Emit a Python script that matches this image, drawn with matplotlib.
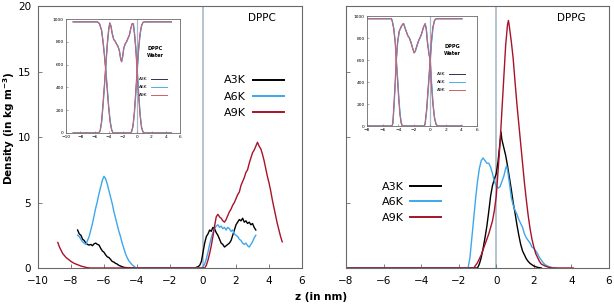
import matplotlib
matplotlib.use("Agg")
import matplotlib.pyplot as plt

# ---------------- data: DPPC main panel ----------------
dppc_a3k_z = [-7.6, -7.5, -7.4, -7.3, -7.2, -7.1, -7.0, -6.9, -6.8, -6.7, -6.6, -6.5, -6.4, -6.3, -6.2, -6.1,
              -6.0, -5.9, -5.8, -5.7, -5.6, -5.5, -5.4, -5.3, -5.2, -5.1, -5.0, -4.9, -4.8, -4.6, -4.4,
              -0.5, -0.4, -0.3, -0.2, -0.1, 0.0, 0.1, 0.2, 0.3, 0.4, 0.5, 0.6, 0.7, 0.8, 0.9, 1.0, 1.1, 1.2,
              1.3, 1.4, 1.5, 1.6, 1.7, 1.8, 1.9, 2.0, 2.1, 2.2, 2.3, 2.4, 2.5, 2.6, 2.7, 2.8, 2.9, 3.0, 3.1, 3.2]
dppc_a3k_d = [2.9, 2.6, 2.5, 2.2, 2.1, 1.9, 1.8, 1.75, 1.8, 1.7, 1.85, 1.9, 1.8, 1.75, 1.5, 1.3,
              1.2, 1.0, 0.85, 0.8, 0.65, 0.5, 0.45, 0.35, 0.3, 0.2, 0.15, 0.1, 0.05, 0.02, 0.0,
              0.0, 0.05, 0.1, 0.2, 0.5, 1.2, 1.9, 2.4, 2.6, 2.9, 2.8, 3.1, 3.0, 2.7, 2.5, 2.2, 1.9, 1.8,
              1.6, 1.7, 1.8, 1.9, 2.1, 2.5, 2.9, 3.3, 3.5, 3.7, 3.6, 3.8, 3.5, 3.6, 3.4, 3.5, 3.3, 3.4, 3.1, 2.9]

dppc_a6k_z = [-7.6, -7.5, -7.4, -7.3, -7.2, -7.1, -7.0, -6.9, -6.8, -6.7, -6.6, -6.5, -6.4, -6.3, -6.2, -6.1,
              -6.0, -5.9, -5.8, -5.7, -5.6, -5.5, -5.4, -5.3, -5.2, -5.1, -5.0, -4.9, -4.8, -4.7, -4.6,
              -4.5, -4.4, -4.3, -4.2, -4.1, -4.0, -0.1, 0.0, 0.1, 0.2, 0.3, 0.4, 0.5, 0.6, 0.7, 0.8, 0.9,
              1.0, 1.1, 1.2, 1.3, 1.4, 1.5, 1.6, 1.7, 1.8, 1.9, 2.0, 2.1, 2.2, 2.3, 2.4, 2.5, 2.6, 2.7, 2.8,
              2.9, 3.0, 3.1, 3.2]
dppc_a6k_d = [2.5, 2.4, 2.2, 2.0, 1.9, 1.8, 2.1, 2.4, 2.9, 3.4, 4.0, 4.6, 5.1, 5.7, 6.2, 6.7,
              7.0, 6.8, 6.4, 5.9, 5.4, 4.9, 4.3, 3.8, 3.3, 2.8, 2.4, 1.9, 1.5, 1.1, 0.8,
              0.55, 0.4, 0.25, 0.15, 0.05, 0.0, 0.0, 0.1, 0.3, 0.7, 1.2, 1.8, 2.3, 2.7, 3.0, 3.2, 3.3,
              3.1, 3.2, 3.0, 3.1, 2.9, 3.1, 3.0, 2.8, 2.9, 2.6, 2.5, 2.4, 2.2, 2.1, 1.9, 1.8, 1.9, 1.7, 1.6,
              1.8, 2.0, 2.3, 2.5]

dppc_a9k_z = [-8.8, -8.7, -8.6, -8.5, -8.4, -8.3, -8.2, -8.1, -8.0, -7.8, -7.6, -7.4, -7.2, -7.0, -6.8,
              0.1, 0.2, 0.3, 0.4, 0.5, 0.6, 0.7, 0.8, 0.9, 1.0, 1.1, 1.2, 1.3, 1.4, 1.5, 1.6, 1.7, 1.8,
              1.9, 2.0, 2.1, 2.2, 2.3, 2.4, 2.5, 2.6, 2.7, 2.8, 2.9, 3.0, 3.1, 3.2, 3.3, 3.4, 3.5, 3.6,
              3.7, 3.8, 3.9, 4.0, 4.1, 4.2, 4.3, 4.4, 4.5, 4.6, 4.7, 4.8]
dppc_a9k_d = [1.95, 1.6, 1.35, 1.1, 0.95, 0.8, 0.7, 0.6, 0.5, 0.35, 0.25, 0.15, 0.08, 0.02, 0.0,
              0.0, 0.2, 0.6, 1.1, 1.7, 2.4, 3.2, 3.9, 4.1, 3.9, 3.8, 3.6, 3.5, 3.7, 4.0, 4.3, 4.5, 4.8,
              5.0, 5.3, 5.6, 5.8, 6.3, 6.6, 6.9, 7.3, 7.5, 8.0, 8.4, 8.8, 9.0, 9.3, 9.6, 9.3, 9.1, 8.7,
              8.2, 7.6, 7.0, 6.5, 5.9, 5.2, 4.6, 4.0, 3.4, 2.9, 2.4, 2.0]

# ---------------- data: DPPG main panel ----------------
dppg_a3k_z = [-8.0, -1.0, -0.9, -0.8, -0.7, -0.6, -0.5, -0.4, -0.3, -0.2, -0.1, 0.0, 0.1, 0.2, 0.25, 0.3,
              0.4, 0.5, 0.6, 0.7, 0.8, 0.9, 1.0, 1.1, 1.2, 1.3, 1.4, 1.5, 1.6, 1.7, 1.8, 1.9, 2.0, 2.2, 2.4]
dppg_a3k_d = [0.0, 0.0, 0.3, 0.8, 1.5, 2.3, 3.2, 4.3, 5.5, 6.3, 6.8, 7.2, 8.2, 9.6, 10.4, 9.8,
              9.2, 8.6, 7.8, 6.9, 6.0, 5.0, 4.2, 3.3, 2.5, 1.8, 1.3, 1.0, 0.7, 0.5, 0.35, 0.25, 0.15, 0.05, 0.0]

dppg_a6k_z = [-8.0, -1.5, -1.4, -1.3, -1.2, -1.1, -1.0, -0.9, -0.8, -0.7, -0.6, -0.5, -0.4, -0.3, -0.2, -0.1,
              0.0, 0.1, 0.2, 0.3, 0.4, 0.5, 0.55, 0.6, 0.7, 0.8, 0.9, 1.0, 1.1, 1.2, 1.3, 1.4, 1.5, 1.6,
              1.7, 1.8, 1.9, 2.0, 2.1, 2.2, 2.3, 2.4, 2.5, 2.6, 2.8, 3.0, 3.2]
dppg_a6k_d = [0.0, 0.0, 0.8, 2.3, 3.8, 5.3, 6.6, 7.6, 8.2, 8.4, 8.2, 8.0, 8.0, 7.7, 7.2, 6.6,
              6.3, 6.1, 6.2, 6.6, 7.0, 7.6, 7.8, 7.5, 6.5, 5.4, 4.8, 4.4, 4.1, 3.7, 3.4, 3.1, 2.6, 2.3,
              2.1, 1.9, 1.6, 1.5, 1.3, 1.1, 0.8, 0.6, 0.4, 0.25, 0.1, 0.03, 0.0]

dppg_a9k_z = [-8.0, -1.2, -1.1, -1.0, -0.9, -0.8, -0.7, -0.6, -0.5, -0.4, -0.3, -0.2, -0.1, 0.0, 0.1, 0.2,
              0.3, 0.4, 0.5, 0.6, 0.65, 0.7, 0.8, 0.9, 1.0, 1.1, 1.2, 1.3, 1.4, 1.5, 1.6, 1.7, 1.8, 1.9,
              2.0, 2.1, 2.2, 2.3, 2.4, 2.6, 2.8, 3.0, 4.1]
dppg_a9k_d = [0.0, 0.0, 0.2, 0.4, 0.7, 1.0, 1.4, 1.8, 2.2, 2.6, 3.1, 3.6, 4.4, 5.5, 7.5, 9.5,
              12.0, 14.5, 17.0, 18.6, 18.9, 18.4, 17.3, 16.0, 14.2, 12.5, 11.0, 9.5, 8.0, 6.5, 5.2, 4.0, 3.0, 2.2,
              1.6, 1.1, 0.8, 0.5, 0.3, 0.15, 0.05, 0.0, 0.0]

# ---------------- data: insets (water and lipid density, kg m^-3) ----------------
dppc_water_z = [-9.0, -5.6, -5.3, -5.0, -4.8, -4.6, -4.4, -4.2, -4.0, -3.8, -3.6, -3.4, -1.0, -0.8, -0.6,
                -0.4, -0.2, 0.0, 0.2, 0.4, 0.6, 0.8, 1.0, 4.8]
dppc_water_d = [975, 975, 960, 900, 800, 680, 540, 380, 220, 100, 30, 0, 0, 10, 60,
                180, 360, 560, 740, 870, 940, 970, 975, 975]
dppc_lipid_z = [-9.0, -5.4, -5.2, -5.0, -4.8, -4.6, -4.4, -4.2, -4.0, -3.85, -3.7, -3.5, -3.3, -3.1, -2.9,
                -2.7, -2.5, -2.35, -2.2, -2.05, -1.9, -1.7, -1.5, -1.3, -1.1, -0.9, -0.7, -0.55, -0.4,
                -0.2, 0.0, 0.2, 0.4, 0.6, 0.8, 1.0, 4.8]
dppc_lipid_d = [0, 0, 20, 100, 250, 420, 600, 780, 910, 965, 940, 870, 820, 805, 780,
                760, 720, 660, 625, 670, 740, 780, 800, 830, 860, 920, 960, 960, 880,
                740, 540, 340, 160, 50, 10, 0, 0]

dppg_water_z = [-8.0, -4.9, -4.8, -4.6, -4.4, -4.27, -4.1, -3.95, -3.8, -3.65, -3.5, -0.7, -0.6, -0.4,
                -0.2, 0.05, 0.2, 0.4, 0.6, 0.8, 4.1]
dppg_water_d = [975, 975, 960, 890, 760, 600, 420, 250, 110, 30, 0, 0, 20, 150,
                350, 600, 760, 900, 960, 975, 975]
dppg_lipid_z = [-8.0, -4.8, -4.7, -4.55, -4.4, -4.27, -4.1, -3.9, -3.6, -3.35, -3.1, -2.8, -2.6, -2.4,
                -2.2, -2.0, -1.85, -1.6, -1.4, -1.2, -1.0, -0.8, -0.6, -0.45, -0.3, -0.1, 0.05, 0.2,
                0.4, 0.6, 0.8, 1.0, 4.1]
dppg_lipid_d = [0, 0, 30, 200, 400, 600, 760, 860, 910, 933, 880, 820, 800, 760,
                710, 665, 680, 740, 780, 810, 850, 900, 930, 880, 760, 650, 600, 400,
                200, 70, 15, 0, 0]

labels = ["A3K", "A6K", "A9K"]
main_colors = ["#000000", "#3ea6ec", "#a8122a"]
inset_colors = ["#2e3350", "#4ab0f0", "#d0606e"]
vline_color = "#a9b7c6"
spine_color = "#6a6a6a"

fig = plt.figure(figsize=(6.14, 3.06), dpi=100)
axL = fig.add_axes([0.0619, 0.1242, 0.430, 0.856])
axR = fig.add_axes([0.5635, 0.1242, 0.4283, 0.856])


def style_main(ax, xlim, xticks, ylabels=True):
    ax.set_xlim(*xlim)
    ax.set_ylim(0, 20)
    ax.set_xticks(xticks)
    ax.set_yticks([0, 5, 10, 15, 20])
    ax.tick_params(direction="in", length=3, width=0.6, labelsize=7.5, color=spine_color)
    ax.tick_params(axis="x", pad=6)
    ax.tick_params(axis="y", pad=5)
    if not ylabels:
        ax.set_yticklabels([])
    for s in ax.spines.values():
        s.set_color(spine_color)
        s.set_linewidth(0.8)
    ax.axvline(0, color=vline_color, lw=1.2, zorder=0)


style_main(axL, (-10, 6), range(-10, 7, 2))
style_main(axR, (-8, 6), range(-8, 7, 2), ylabels=False)

for z, d, lab, c in zip([dppc_a3k_z, dppc_a6k_z, dppc_a9k_z], [dppc_a3k_d, dppc_a6k_d, dppc_a9k_d],
                        labels, main_colors):
    axL.plot(z, d, color=c, lw=1.0, label=lab)
for z, d, lab, c in zip([dppg_a3k_z, dppg_a6k_z, dppg_a9k_z], [dppg_a3k_d, dppg_a6k_d, dppg_a9k_d],
                        labels, main_colors):
    axR.plot(z, d, color=c, lw=1.0, label=lab)

legkw = dict(frameon=False, markerfirst=False, fontsize=8, handlelength=2.8, handletextpad=0.6,
             borderpad=0, borderaxespad=0, loc="upper left")
lgL = axL.legend(bbox_to_anchor=(0.705, 0.735), labelspacing=0.55, **legkw)
lgR = axR.legend(bbox_to_anchor=(0.135, 0.330), labelspacing=0.5, **legkw)
for lg in (lgL, lgR):
    for h in lg.get_lines():
        h.set_linewidth(1.4)

axL.text(0.85, 0.955, "DPPC", transform=axL.transAxes, ha="center", va="center", fontsize=7.5)
axR.text(0.855, 0.955, "DPPG", transform=axR.transAxes, ha="center", va="center", fontsize=7.5)

fig.text(0.015, 0.58, "Density (in kg m$^{\\mathbf{-3}}$)", rotation=90, ha="center", va="center",
         fontsize=7.5, fontweight="bold")
fig.text(0.523, 0.03, "z (in nm)", ha="center", va="center", fontsize=7.5, fontweight="bold")

# ---------------- insets ----------------
inL = fig.add_axes([0.1075, 0.5654, 0.1857, 0.3725])
inR = fig.add_axes([0.5977, 0.5882, 0.1792, 0.3595])


def style_inset(ax, xlim, xticks):
    ax.set_xlim(*xlim)
    ax.set_ylim(0, 1000)
    ax.set_xticks(xticks)
    ax.set_yticks(range(0, 1001, 200))
    ax.tick_params(direction="in", length=1.5, width=0.4, labelsize=3.2, pad=1.5, color=spine_color)
    for s in ax.spines.values():
        s.set_color(spine_color)
        s.set_linewidth(0.6)
    ax.axvline(0, color=vline_color, lw=0.9, zorder=0)


style_inset(inL, (-10, 6), range(-10, 7, 2))
style_inset(inR, (-8, 6), range(-8, 7, 2))

offsets = [0.0, 0.03, -0.03]
for ax, wz, wd, lz, ld in [(inL, dppc_water_z, dppc_water_d, dppc_lipid_z, dppc_lipid_d),
                           (inR, dppg_water_z, dppg_water_d, dppg_lipid_z, dppg_lipid_d)]:
    for lab, c, off in zip(labels, inset_colors, offsets):
        ax.plot([v + off for v in wz], wd, color=c, lw=0.7, label=lab)
        ax.plot([v + off for v in lz], ld, color=c, lw=0.7)
    lg = ax.legend(frameon=False, markerfirst=False, fontsize=3.2, handlelength=3.5, handletextpad=0.8,
                   labelspacing=0.9, borderpad=0, borderaxespad=0, loc="upper left",
                   bbox_to_anchor=(0.64, 0.49))
    for h in lg.get_lines():
        h.set_linewidth(0.7)

inL.text(0.78, 0.71, "DPPC\nWater", transform=inL.transAxes, ha="center", va="center",
         fontsize=3.6, fontweight="bold", linespacing=1.5)
inR.text(0.78, 0.69, "DPPG\nWater", transform=inR.transAxes, ha="center", va="center",
         fontsize=3.6, fontweight="bold", linespacing=1.5)

fig.savefig("out.png", dpi=100)
